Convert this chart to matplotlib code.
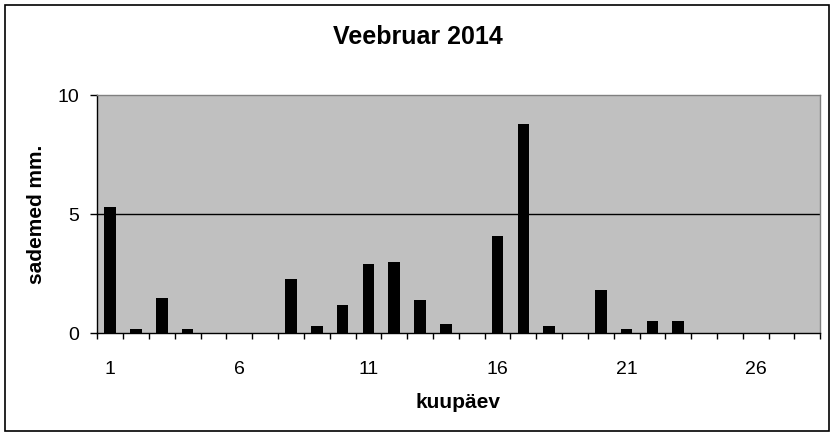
import matplotlib.pyplot as plt
from matplotlib.patches import Rectangle
from matplotlib.ticker import FixedLocator

plt.rcParams["font.family"] = ["Liberation Sans", "DejaVu Sans"]

# daily precipitation, February 2014
days = list(range(1, 29))
precip = [5.3, 0.2, 1.5, 0.2, 0, 0, 0, 2.3, 0.3, 1.2,
          2.9, 3.0, 1.4, 0.4, 0, 4.1, 8.8, 0.3, 0, 1.8,
          0.2, 0.5, 0.5, 0, 0, 0, 0, 0]
y_ticks = [0, 5, 10]
x_label_days = [1, 6, 11, 16, 21, 26]

fig = plt.figure(figsize=(8.35, 4.37), dpi=100)
ax = fig.add_axes([0.1165, 0.2373, 0.9824 - 0.1165, 0.7815 - 0.2373])

ax.set_facecolor("#c0c0c0")
ax.bar(days, precip, width=0.45, color="black", zorder=3)
ax.axhline(5, color="black", linewidth=1, zorder=2)

ax.set_xlim(0.5, len(days) + 0.5)
ax.set_ylim(0, 10)
ax.set_yticks(y_ticks)
ax.set_xticks(x_label_days)
ax.xaxis.set_minor_locator(FixedLocator([d - 0.5 for d in days] + [len(days) + 0.5]))

ax.tick_params(axis="y", direction="out", length=5, width=1, pad=8, labelsize=14)
ax.tick_params(axis="x", which="major", length=0, pad=20, labelsize=14)
ax.tick_params(axis="x", which="minor", direction="out", length=4.5, width=1)

for side in ("left", "bottom"):
    ax.spines[side].set_color("black")
    ax.spines[side].set_linewidth(1)
for side in ("top", "right"):
    ax.spines[side].set_color("#808080")
    ax.spines[side].set_linewidth(1)

fig.text(417.5 / 835, 1 - 37 / 437, "Veebruar 2014", ha="center", va="center",
         fontsize=18, fontweight="bold")
fig.text(457.7 / 835, 1 - 402 / 437, "kuupäev", ha="center", va="center",
         fontsize=15, fontweight="bold")
fig.text(36.7 / 835, 1 - 214 / 437, "sademed mm.", ha="center", va="center",
         rotation=90, fontsize=15, fontweight="bold")

# outer chart border
fig.patches.append(Rectangle((5 / 835, 6 / 437), 824 / 835, 426 / 437,
                             transform=fig.transFigure, fill=False,
                             edgecolor="black", linewidth=1.2))

fig.savefig("out.png", dpi=100)
